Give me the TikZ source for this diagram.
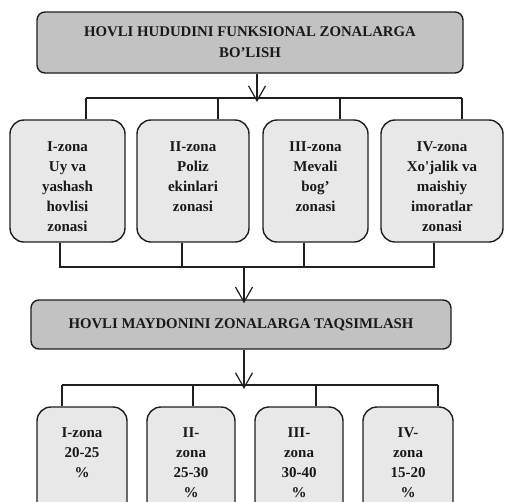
\documentclass[tikz,border=0pt]{standalone}
\usepackage{fontspec}
\setmainfont{Liberation Serif}
\usetikzlibrary{arrows.meta}
\begin{document}
\begin{tikzpicture}[x=1pt,y=-1pt,
  hbox/.style={draw=black!88, line width=1.4pt, fill=black!24, rounded corners=8pt, inner sep=0pt,
    font=\bfseries\fontsize{14.8}{21}\selectfont, align=center, text=black!90},
  zbox/.style={draw=black!88, line width=1.4pt, fill=black!9, rounded corners=14pt, inner sep=0pt},
  ztext/.style={font=\bfseries\fontsize{15}{20}\selectfont, align=center, anchor=north, inner sep=0pt, text=black!90},
  conn/.style={draw=black!88, line width=1.3pt},
  arr/.style={conn, shorten >=-4pt, -{Straight Barb[length=15pt,width=17pt,line width=1.2pt]}}]
\clip (0,0) rectangle (506,501);
\useasboundingbox (0,0) rectangle (506,501);
\fill[white] (0,0) rectangle (506,501);

% top header
\node[hbox, minimum width=426pt, minimum height=61pt] (top) at (250,42.5)
  {HOVLI HUDUDINI FUNKSIONAL ZONALARGA\\BO'LISH};

% functional zone boxes
\node[zbox, minimum width=115pt, minimum height=122pt] (z1) at (67.5,181) {};
\node[zbox, minimum width=112pt, minimum height=122pt] (z2) at (193,181) {};
\node[zbox, minimum width=105pt, minimum height=122pt] (z3) at (315.5,181) {};
\node[zbox, minimum width=122pt, minimum height=122pt] (z4) at (442,181) {};
\node[ztext] (z1t) at (67.5,141) {I-zona\\Uy va\\yashash\\hovlisi\\zonasi};
\node[ztext] (z2t) at (193,141) {II-zona\\Poliz\\ekinlari\\zonasi};
\node[ztext] (z3t) at (315.5,141) {III-zona\\Mevali\\bog'\\zonasi};
\node[ztext] (z4t) at (442,141) {IV-zona\\Xo\textquotesingle jalik va\\maishiy\\imoratlar\\zonasi};

% second header
\node[hbox, minimum width=420pt, minimum height=49pt] (mid) at (241,324.5)
  {HOVLI MAYDONINI ZONALARGA TAQSIMLASH};

% percentage boxes
\node[zbox, minimum width=90pt, minimum height=123pt] (p1) at (82,468.5) {};
\node[zbox, minimum width=88pt, minimum height=123pt] (p2) at (191,468.5) {};
\node[zbox, minimum width=88pt, minimum height=123pt] (p3) at (299,468.5) {};
\node[zbox, minimum width=90pt, minimum height=123pt] (p4) at (408,468.5) {};
\node[ztext] (p1t) at (82,427) {I-zona\\20-25\\\%};
\node[ztext] (p2t) at (191,427) {II-\\zona\\25-30\\\%};
\node[ztext] (p3t) at (299,427) {III-\\zona\\30-40\\\%};
\node[ztext] (p4t) at (408,427) {IV-\\zona\\15-20\\\%};

% connectors: top header -> zones
\coordinate (a1) at (257,73);
\coordinate (j1) at (257,98);
\coordinate (h1) at (86,98);
\coordinate (h2) at (218,98);
\coordinate (h3) at (340,98);
\coordinate (h4) at (462,98);
\draw[conn] (h1) -- (h4);
\draw[conn] (h1) -- (h1 |- z1.north);
\draw[conn] (h2) -- (h2 |- z2.north);
\draw[conn] (h3) -- (h3 |- z3.north);
\draw[conn] (h4) -- (h4 |- z4.north);
\draw[arr] (a1 |- top.south) -- (j1);

% zones -> second header
\coordinate (c1) at (60,267);
\coordinate (c2) at (182,267);
\coordinate (c3) at (304,267);
\coordinate (c4) at (434,267);
\coordinate (j2) at (244,267);
\draw[conn] (c1 |- z1.south) -- (c1) -- (c4) -- (c4 |- z4.south);
\draw[conn] (c2 |- z2.south) -- (c2);
\draw[conn] (c3 |- z3.south) -- (c3);
\draw[arr] (j2) -- (j2 |- mid.north);

% second header -> percentage boxes
\coordinate (j3) at (244,385);
\coordinate (d1) at (62,385);
\coordinate (d2) at (193,385);
\coordinate (d3) at (316,385);
\coordinate (d4) at (438,385);
\draw[conn] (d1) -- (d4);
\draw[conn] (d1) -- (d1 |- p1.north);
\draw[conn] (d2) -- (d2 |- p2.north);
\draw[conn] (d3) -- (d3 |- p3.north);
\draw[conn] (d4) -- (d4 |- p4.north);
\draw[arr] (j3 |- mid.south) -- (j3);
\end{tikzpicture}
\end{document}
